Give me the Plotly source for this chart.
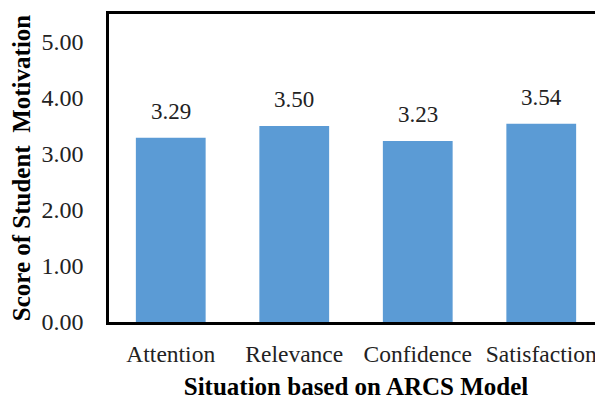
import plotly.graph_objects as go

categories = ["Attention", "Relevance", "Confidence", "Satisfaction"]
scores = [3.29, 3.50, 3.23, 3.54]
y_ticks = [0, 1, 2, 3, 4, 5]
y_tick_labels = ["0.00", "1.00", "2.00", "3.00", "4.00", "5.00"]

FONT = "Liberation Serif"

fig = go.Figure()
fig.add_trace(go.Bar(x=categories, y=scores, marker=dict(color="#5B9BD5", line=dict(width=0)),
                     hoverinfo="skip"))

for c, v in zip(categories, scores):
    fig.add_annotation(x=c, y=v, text=f"{v:.2f}", showarrow=False, yanchor="bottom",
                       yshift=12, font=dict(family=FONT, size=23, color="#222"))

# page body has an 8px margin, so the figure is slightly smaller and shifted
fig.update_layout(
    width=595, height=407,
    margin=dict(l=101, r=0, t=6, b=93),
    paper_bgcolor="white", plot_bgcolor="white",
    bargap=0.435, showlegend=False,
    xaxis=dict(range=[-0.5, 3.5], showline=True, linecolor="black", linewidth=2.5, mirror=True,
               ticks="", ticklabelstandoff=9, automargin=False,
               tickfont=dict(family=FONT, size=23.5, color="#222"),
               title=dict(text="<b>Situation based on ARCS Model</b>", standoff=12,
                          font=dict(family=FONT, size=25, color="black"))),
    yaxis=dict(range=[0, 5.5], tickvals=y_ticks, ticktext=y_tick_labels, showgrid=False,
               zeroline=False, showline=True, linecolor="black", linewidth=2.5, ticks="",
               ticklabelstandoff=18, automargin=False,
               tickfont=dict(family=FONT, size=24, color="#222"),
               title=dict(text="<b>Score of Student  Motivation</b>", standoff=10,
                          font=dict(family=FONT, size=25, color="black"))),
)

fig.write_html("out.html")
